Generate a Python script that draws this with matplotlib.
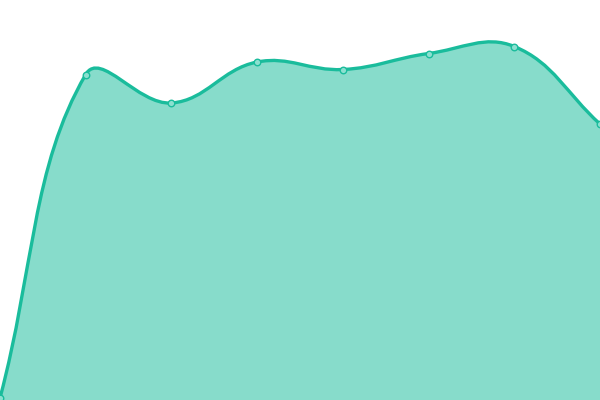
import numpy as np
import matplotlib
matplotlib.use("Agg")
import matplotlib.pyplot as plt
from matplotlib.path import Path
from matplotlib.patches import PathPatch

# values (bottom of chart = 0, top = 400)
labels = ["A", "B", "C", "D", "E", "F", "G", "H"]
values = [2, 325.5, 297, 338, 330.5, 346.5, 353.5, 276]

line_color = "#1abc9c"
tension = 0.4

fig = plt.figure(figsize=(6, 4), dpi=100)
ax = fig.add_axes([0, 0, 1, 1])
ax.set_xlim(0, len(values) - 1)
ax.set_ylim(0, 400)
ax.axis("off")

# spline like chart.js (tension computed in pixel space)
pts = ax.transData.transform(np.column_stack([np.arange(len(values)), values]))
n = len(pts)
verts = [pts[0]]
codes = [Path.MOVETO]
cps = []
for i in range(n):
    p0 = pts[max(i - 1, 0)]
    p1 = pts[i]
    p2 = pts[min(i + 1, n - 1)]
    d01 = np.hypot(*(p1 - p0))
    d12 = np.hypot(*(p2 - p1))
    s = d01 + d12
    fa = tension * d01 / s if s else 0
    fb = tension * d12 / s if s else 0
    cps.append((p1 - fa * (p2 - p0), p1 + fb * (p2 - p0)))
for i in range(n - 1):
    verts += [cps[i][1], cps[i + 1][0], pts[i + 1]]
    codes += [Path.CURVE4] * 3

inv = ax.transData.inverted()
line_verts = inv.transform(np.array(verts))
line_path = Path(line_verts, codes)

fill_verts = list(line_verts) + [(n - 1, 0), (0, 0), line_verts[0]]
fill_codes = codes + [Path.LINETO, Path.LINETO, Path.CLOSEPOLY]
ax.add_patch(PathPatch(Path(fill_verts, fill_codes), facecolor=line_color,
                       alpha=0.52, edgecolor="none"))
ax.add_patch(PathPatch(line_path, facecolor="none", edgecolor=line_color, lw=2.4))

ax.scatter(np.arange(n), values, s=22, facecolor="#8ce0d0",
           edgecolor=line_color, linewidth=1, zorder=5)

fig.savefig("out.png", dpi=100)
